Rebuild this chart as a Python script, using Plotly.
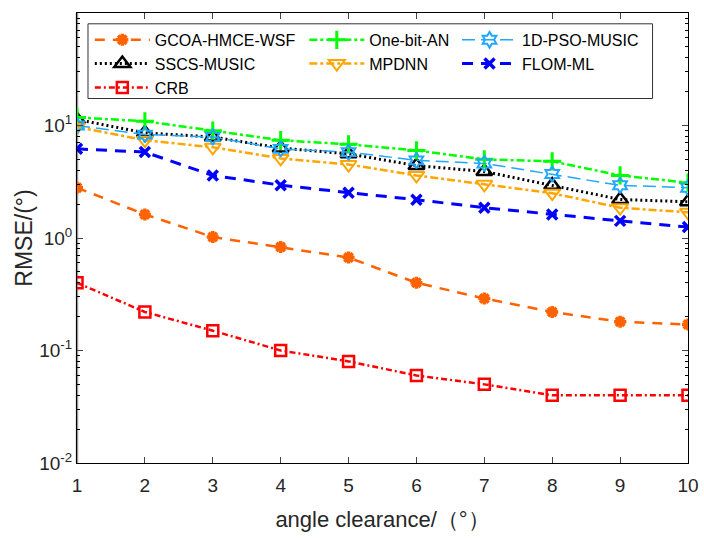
import plotly.graph_objects as go

angles = [1, 2, 3, 4, 5, 6, 7, 8, 9, 10]
gcoa = [2.8, 1.62, 1.02, 0.83, 0.67, 0.40, 0.29, 0.22, 0.18, 0.17]
onebit = [11.8, 10.9, 9.0, 7.4, 6.8, 6.0, 5.0, 4.8, 3.6, 3.1]
pso = [10.0, 8.3, 7.9, 6.2, 5.8, 4.9, 4.6, 3.7, 2.94, 2.8]
sscs = [11.3, 8.6, 7.9, 6.3, 5.6, 4.4, 3.9, 2.95, 2.2, 2.1]
mpdnn = [9.7, 7.4, 6.4, 5.1, 4.5, 3.6, 3.0, 2.5, 1.86, 1.69]
flom = [6.2, 5.8, 3.6, 2.95, 2.53, 2.19, 1.86, 1.62, 1.42, 1.25]
crb = [0.40, 0.22, 0.15, 0.10, 0.08, 0.06, 0.05, 0.04, 0.04, 0.04]

ytick_vals = [0.01, 0.1, 1, 10, 100]
ytick_text = ["10<sup>-2</sup>", "10<sup>-1</sup>", "10<sup>0</sup>", "10<sup>1</sup>", "10<sup>2</sup>"]

# name, data, color, dash, line width, symbol, marker size, marker line width, legend column
series = [
    ("GCOA-HMCE-WSF", gcoa, "#FF6200", "10px,8px", 2.5, "asterisk-open", 10, 3.5, "legend"),
    ("SSCS-MUSIC", sscs, "#000000", "2px,3px", 3, "triangle-up-open", 14, 2.5, "legend"),
    ("CRB", crb, "#FF0000", "6px,3px,2px,3px", 2.5, "square-open", 11, 2.5, "legend"),
    ("One-bit-AN", onebit, "#00FF00", "8px,3px,3px,3px", 2.5, "cross-thin-open", 13, 3, "legend2"),
    ("MPDNN", mpdnn, "#FFA500", "8px,3px,3px,3px", 2.5, "triangle-down-open", 14, 2, "legend2"),
    ("1D-PSO-MUSIC", pso, "#1EA8FF", "13px,6px", 1.5, "hexagram-open", 12, 2, "legend3"),
    ("FLOM-ML", flom, "#0000FF", "11px,8px", 3, "x-thin-open", 10, 3.5, "legend3"),
]

fig = go.Figure()
for name, ys, color, dash, lw, sym, ms, mlw, lg in series:
    fig.add_trace(go.Scatter(
        x=angles, y=ys, name=name, mode="lines+markers", legend=lg,
        line=dict(color=color, width=lw, dash=dash),
        marker=dict(symbol=sym, size=ms, color=color, line=dict(color=color, width=mlw)),
    ))

font_family = "Liberation Sans, Arial, sans-serif"
leg_common = dict(
    orientation="v", yanchor="top", xanchor="left", y=0.978,
    bgcolor="rgba(0,0,0,0)", borderwidth=0,
    font=dict(size=16, color="#000000"),
    itemwidth=55, tracegroupgap=0,
)
fig.update_layout(
    width=704, height=550,
    margin=dict(l=77, r=5, t=13, b=87),
    plot_bgcolor="white", paper_bgcolor="white",
    font=dict(family=font_family, size=19, color="#262626"),
    showlegend=True,
    legend=dict(x=0.021, **leg_common),
    legend2=dict(x=0.372, **leg_common),
    legend3=dict(x=0.622, **leg_common),
    xaxis=dict(
        range=[1, 10], tickvals=angles, ticks="inside", ticklen=6,
        showline=True, linecolor="#000000", linewidth=1, mirror="ticks",
        showgrid=False, zeroline=False, ticklabelstandoff=5,
        ticklabeloverflow="allow",
        title=dict(text="angle clearance/（°）", font=dict(size=22), standoff=16),
    ),
    yaxis=dict(
        type="log", range=[-2, 2], tickvals=ytick_vals, ticktext=ytick_text,
        ticks="inside", ticklen=6,
        minor=dict(ticks="inside", ticklen=3, dtick="D1", tickcolor="#000000"),
        showline=True, linecolor="#000000", linewidth=1, mirror="ticks",
        showgrid=False, zeroline=False,
        title=dict(text="RMSE/(°)", font=dict(size=23), standoff=0),
    ),
)
fig.add_shape(type="line", xref="x domain", yref="y domain", x0=0, x1=0, y0=0, y1=1,
              line=dict(color="#9a9a9a", width=2.5), layer="below")
fig.add_shape(type="rect", xref="paper", yref="paper", x0=0.018, x1=0.942, y0=0.81, y1=0.976,
              fillcolor="white", line=dict(color="#333333", width=1), layer="above")

fig.write_html("out.html")
